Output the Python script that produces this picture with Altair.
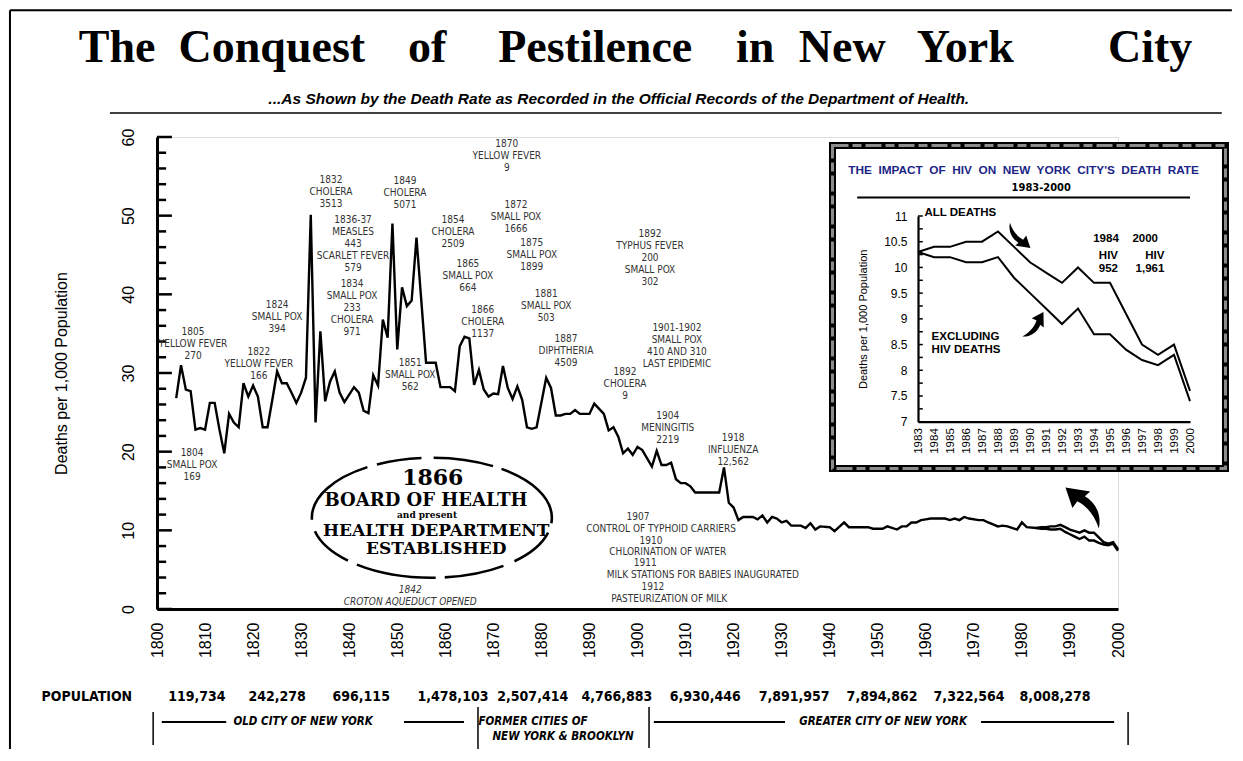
import altair as alt
import pandas as pd

# ---------------- data ----------------
main_years = [1804, 1805, 1806, 1807, 1808, 1809, 1810, 1811, 1812, 1813, 1814, 1815, 1816, 1817,
              1818, 1819, 1820, 1821, 1822, 1823, 1824, 1825, 1826, 1827, 1828, 1829, 1830, 1831,
              1832, 1833, 1834, 1835, 1836, 1837, 1838, 1839, 1841, 1842, 1843, 1844, 1845, 1846,
              1847, 1848, 1849, 1850, 1851, 1852, 1853, 1854, 1856, 1858, 1859, 1861, 1862, 1863,
              1864, 1865, 1866, 1867, 1868, 1869, 1870, 1871, 1872, 1873, 1874, 1875, 1876, 1877,
              1878, 1879, 1881, 1882, 1883, 1884, 1885, 1886, 1887, 1888, 1890, 1891, 1893, 1894,
              1895, 1896, 1897, 1898, 1899, 1900, 1901, 1903, 1904, 1905, 1906, 1907, 1908, 1909,
              1910, 1911, 1912, 1917, 1918, 1919, 1920, 1921, 1922, 1924, 1925, 1926, 1927, 1928,
              1929, 1930, 1931, 1932, 1934, 1935, 1936, 1937, 1938, 1940, 1941, 1943, 1944, 1948,
              1949, 1951, 1952, 1954, 1955, 1956, 1957, 1958, 1959, 1960, 1961, 1964, 1965, 1966,
              1967, 1968, 1969, 1971, 1972, 1973, 1975, 1976, 1977, 1979, 1980, 1981]
main_rate = [26.8, 31.0, 27.9, 27.7, 22.8, 23.0, 22.8, 26.2, 26.2, 22.8, 19.8, 24.8, 23.7, 23.1,
             28.7, 27.0, 28.4, 27.0, 23.1, 23.1, 26.6, 30.2, 28.7, 28.7, 27.5, 26.2, 27.5, 29.4,
             50.1, 23.7, 35.3, 26.4, 28.9, 30.2, 27.5, 26.3, 28.2, 27.5, 25.2, 24.9, 29.7, 28.4,
             36.8, 34.5, 49.0, 33.0, 40.9, 38.5, 39.2, 47.2, 31.3, 31.3, 28.2, 28.2, 27.7, 33.4,
             34.6, 34.4, 28.5, 30.4, 27.9, 27.0, 27.4, 27.3, 30.9, 28.1, 26.7, 28.3, 26.6, 23.1,
             22.9, 23.1, 29.4, 28.1, 24.6, 24.6, 24.8, 24.8, 25.3, 24.8, 24.8, 26.1, 24.8, 22.7,
             23.1, 21.9, 19.8, 20.4, 19.6, 20.6, 20.2, 18.1, 20.1, 18.3, 18.3, 18.6, 16.5, 16.0,
             16.0, 15.6, 14.8, 14.8, 18.0, 13.5, 12.9, 11.3, 11.7, 11.7, 11.4, 11.9, 11.0, 11.7,
             11.5, 11.0, 11.2, 10.6, 10.6, 10.3, 10.9, 10.1, 10.5, 10.4, 9.9, 11.0, 10.4, 10.4,
             10.2, 10.2, 10.5, 10.1, 10.5, 10.5, 11.0, 11.0, 11.3, 11.4, 11.5, 11.5, 11.3, 11.5,
             11.3, 11.7, 11.5, 11.3, 11.3, 11.0, 10.5, 10.6, 10.5, 10.1, 11.0, 10.4]

hiv_years = list(range(1983, 2001))
all_deaths = [10.3, 10.4, 10.4, 10.5, 10.5, 10.7, 10.4, 10.1, 9.9, 9.7, 10.0, 9.7, 9.7, 9.1,
              8.5, 8.3, 8.5, 7.6]
excl_hiv = [10.3, 10.2, 10.2, 10.1, 10.1, 10.2, 9.8, 9.5, 9.2, 8.9, 9.2, 8.7, 8.7, 8.4,
            8.2, 8.1, 8.3, 7.4]

epidemic_notes = ["1805\nYELLOW FEVER\n270", "1804\nSMALL POX\n169", "1822\nYELLOW FEVER\n166",
                  "1824\nSMALL POX\n394", "1832\nCHOLERA\n3513",
                  "1836-37\nMEASLES\n443\nSCARLET FEVER\n579",
                  "1834\nSMALL POX\n233\nCHOLERA\n971", "1849\nCHOLERA\n5071",
                  "1851\nSMALL POX\n562", "1854\nCHOLERA\n2509", "1865\nSMALL POX\n664",
                  "1866\nCHOLERA\n1137", "1870\nYELLOW FEVER\n9", "1872\nSMALL POX\n1666",
                  "1875\nSMALL POX\n1899", "1881\nSMALL POX\n503", "1887\nDIPHTHERIA\n4509",
                  "1892\nTYPHUS FEVER\n200\nSMALL POX\n302",
                  "1901-1902\nSMALL POX\n410 AND 310\nLAST EPIDEMIC", "1892\nCHOLERA\n9",
                  "1904\nMENINGITIS\n2219", "1918\nINFLUENZA\n12,562"]
reform_lines = ["1907", "CONTROL OF TYPHOID CARRIERS", "1910", "CHLORINATION OF WATER", "1911",
                "MILK STATIONS FOR BABIES INAUGURATED", "1912", "PASTEURIZATION OF MILK"]
croton_note = "1842\nCROTON AQUEDUCT OPENED"
badge_lines = ["1866", "BOARD OF HEALTH", "and present", "HEALTH DEPARTMENT", "ESTABLISHED"]

title_words = ["The", "Conquest", "of", "Pestilence", "in", "New", "York", "City"]
subtitle = "...As Shown by the Death Rate as Recorded in the Official Records of the Department of Health."

pop_labels = ["119,734", "242,278", "696,115", "1,478,103", "2,507,414", "4,766,883",
              "6,930,446", "7,891,957", "7,894,862", "7,322,564", "8,008,278"]
era_labels = ["OLD CITY OF NEW YORK", "FORMER CITIES OF", "NEW YORK & BROOKLYN",
              "GREATER CITY OF NEW YORK"]

inset_title = "THE\u00a0 IMPACT\u00a0 OF\u00a0 HIV\u00a0 ON\u00a0 NEW\u00a0 YORK\u00a0 CITY'S\u00a0 DEATH\u00a0 RATE"
inset_notes = ["1984", "2000", "HIV", "HIV", "952", "1,961"]

# ---------------- layout (anchors in data units) ----------------
note_x = [1807.5, 1807.3, 1821.2, 1825.0, 1836.2, 1840.8, 1840.6, 1851.6, 1852.7, 1861.6, 1864.7,
          1867.8, 1872.8, 1874.7, 1878.0, 1881.0, 1885.1, 1902.6, 1908.2, 1897.4, 1906.3, 1919.9]
note_y = [35.9, 20.5, 33.3, 39.3, 55.2, 50.1, 41.9, 55.0, 31.9, 50.1, 44.5,
          38.7, 59.8, 52.0, 47.1, 40.7, 35.0, 48.3, 36.4, 30.7, 25.2, 22.4]
reform_x = [1900.1, 1904.9, 1902.8, 1906.3, 1901.6, 1913.6, 1903.2, 1906.6]
reform_y = [11.7, 10.2, 8.6, 7.2, 5.8, 4.3, 2.8, 1.3]
badge_x = [1857.4, 1856.0, 1856.2, 1858.1, 1858.1]
badge_y = [16.65, 13.7, 11.95, 9.9, 7.6]
badge_size = [22, 18, 9, 17, 17]
title_x = [1791.7, 1823.9, 1856.2, 1891.2, 1924.5, 1942.6, 1968.2, 2006.7]
pop_x = [1808.3, 1825.0, 1842.5, 1861.6, 1878.2, 1895.7, 1914.1, 1932.6, 1950.9, 1969.0, 1986.9]

XS = alt.Scale(domain=[1800, 2000], nice=False, zero=False)
YS = alt.Scale(domain=[0, 60], nice=False, zero=False)
IXS = alt.Scale(domain=[1983, 2000], range=[761, 1033], nice=False, zero=False)
IYS = alt.Scale(domain=[7, 11], range=[284.7, 79], nice=False, zero=False)

NARROW = "Liberation Sans Narrow, DejaVu Sans Condensed, Liberation Sans"
SANS = "Liberation Sans"


def mx(f="x"):
    return alt.X(f"{f}:Q", scale=XS, axis=None)


def my(f="y"):
    return alt.Y(f"{f}:Q", scale=YS, axis=None)


def ix(f="x"):
    return alt.X(f"{f}:Q", scale=IXS, axis=None)


def iy(f="y"):
    return alt.Y(f"{f}:Q", scale=IYS, axis=None)


def mtext(df, **kw):
    return alt.Chart(df).mark_text(**kw).encode(x=mx(), y=my(), text="t:N")


def itext(df, **kw):
    return alt.Chart(df).mark_text(**kw).encode(x=ix(), y=iy(), text="t:N")


def mrule(df, **kw):
    return alt.Chart(df).mark_rule(**kw).encode(x=mx(), x2="x2:Q", y=my(), y2="y2:Q")


ARROW = ("M -1 -0.9 L 0.15 -0.72 L -0.1 -0.5 C 0.35 -0.25 0.7 0.3 0.55 1 "
         "C 0.35 0.4 0.0 -0.05 -0.45 -0.27 L -0.68 0.05 Z")
ELLIPSE = "M -1 0 A 1 0.5 0 1 1 1 0 A 1 0.5 0 1 1 -1 0 Z"

# ---------------- main series ----------------
main_df = pd.concat([
    pd.DataFrame({"x": main_years + hiv_years, "y": main_rate + all_deaths, "s": "all"}),
    pd.DataFrame({"x": hiv_years, "y": excl_hiv, "s": "excl"}),
])

main_line = alt.Chart(main_df).mark_line(color="black", strokeWidth=2.4).encode(
    x=alt.X("x:Q", scale=XS, axis=alt.Axis(
        orient="bottom", values=list(range(1800, 2001, 10)), format="d", labelAngle=-90,
        labelFontSize=16, labelPadding=13, ticks=False, domainWidth=3, domainColor="black",
        labelColor="black", labelFont=SANS, title=None, grid=False, labelFlush=False,
        labelOverlap=False)),
    y=alt.Y("y:Q", scale=YS, axis=alt.Axis(
        orient="left", values=list(range(0, 61, 10)), labelAngle=-90, labelFontSize=16,
        labelPadding=21, ticks=False, domainWidth=3, domainColor="black", labelColor="black",
        labelFont=SANS, title="Deaths per 1,000 Population", titleFontSize=16,
        titleFontWeight="normal", titleFont=SANS, titleColor="black", titlePadding=51,
        grid=False, labelFlush=False, labelOverlap=False)),
    detail="s:N",
)

major = list(range(0, 61, 10))
minor = [v for v in range(2, 60, 2) if v % 10 != 0]
yticks = mrule(pd.DataFrame({"x": 1800, "x2": [1803.1] * len(major) + [1801.9] * len(minor),
                             "y": major + minor, "y2": major + minor}),
               color="black", strokeWidth=2.5)

notes = mtext(pd.DataFrame({"x": note_x, "y": note_y, "t": epidemic_notes}),
              lineBreak="\n", lineHeight=12, baseline="top", align="center",
              font=NARROW, fontSize=10, color="#333333")
reforms = mtext(pd.DataFrame({"x": reform_x, "y": reform_y, "t": reform_lines}),
                baseline="middle", align="center", font=NARROW, fontSize=10, color="#333333")
croton = mtext(pd.DataFrame({"x": [1852.7], "y": [3.1], "t": [croton_note]}),
               lineBreak="\n", lineHeight=12, baseline="top", align="center", font=NARROW,
               fontSize=10, fontStyle="italic", color="#333333")

badge_shape = alt.Chart(pd.DataFrame({"x": [1857.2], "y": [11.6]})).mark_point(
    shape=ELLIPSE, size=57600, filled=False, color="black", strokeWidth=2.6, opacity=1,
    strokeDash=[80, 10, 45, 12, 60, 9]).encode(x=mx(), y=my())
badge_text = alt.Chart(pd.DataFrame({"x": badge_x, "y": badge_y, "t": badge_lines,
                                     "fs": badge_size})).mark_text(
    font="DejaVu Serif", fontWeight="bold", baseline="middle", align="center",
    color="black").encode(x=mx(), y=my(), text="t:N",
                          size=alt.Size("fs:Q", scale=None, legend=None))

title = mtext(pd.DataFrame({"x": title_x, "y": 69.5, "t": title_words}),
              font="Liberation Serif", fontWeight="bold", fontSize=46, baseline="alphabetic",
              align="center", color="black")
sub = mtext(pd.DataFrame({"x": [1896.1], "y": [64.8], "t": [subtitle]}),
            font=SANS, fontWeight="bold", fontStyle="italic", fontSize=15.5,
            baseline="middle", align="center", color="black")
sub_rule = mrule(pd.DataFrame({"x": [1790.2], "x2": [2021.6], "y": [63.05], "y2": [63.05]}),
                 color="black", strokeWidth=1.5)
frame = mrule(pd.DataFrame({"x": [1769.4, 1769.4], "x2": [2023.7, 1769.4],
                            "y": [76.1, 76.1], "y2": [76.1, -18.6]}),
              color="black", strokeWidth=2)

box = alt.Chart(pd.DataFrame({"x": [1940.58], "x2": [2022.37], "y": [58.92], "y2": [17.86]})
                ).mark_rect(fill="white", stroke="black", strokeWidth=7).encode(
    x=mx(), x2="x2:Q", y=my(), y2="y2:Q")
box_dash = alt.Chart(pd.DataFrame({"x": [1940.58], "x2": [2022.37], "y": [58.92], "y2": [17.86]})
                     ).mark_rect(fillOpacity=0, stroke="#8c8c8c", strokeWidth=3,
                                 strokeDash=[16, 4, 9, 4]).encode(
    x=mx(), x2="x2:Q", y=my(), y2="y2:Q")

big_arrow = alt.Chart(pd.DataFrame({"x": [1993.55], "y": [12.97]})).mark_point(
    shape=ARROW, size=1850, filled=True, color="black", opacity=1).encode(x=mx(), y=my())

pop_title = mtext(pd.DataFrame({"x": [1785.4], "y": [-11.19], "t": ["POPULATION"]}),
                  font=NARROW, fontWeight="bold", fontSize=14, baseline="middle",
                  align="center", color="black")
pops = mtext(pd.DataFrame({"x": pop_x, "y": -11.19, "t": pop_labels}),
             font=NARROW, fontWeight="bold", fontSize=14, baseline="middle", align="center",
             color="black")
eras = mtext(pd.DataFrame({"x": [1830.4, 1884.5, 1951.1], "y": [-14.36, -16.27, -14.36],
                           "t": [era_labels[0], era_labels[2], era_labels[3]]}),
             font=NARROW, fontWeight="bold", fontStyle="italic", fontSize=11.5,
             baseline="middle", align="center", color="black")
era_left = mtext(pd.DataFrame({"x": [1866.9], "y": [-14.36], "t": [era_labels[1]]}),
                 font=NARROW, fontWeight="bold", fontStyle="italic", fontSize=11.5,
                 baseline="middle", align="left", color="black")
era_h = mrule(pd.DataFrame({"x": [1801.0, 1851.4, 1903.4, 1971.5],
                            "x2": [1814.4, 1863.9, 1930.7, 1999.2],
                            "y": -14.36, "y2": -14.36}), color="black", strokeWidth=2)
era_v = mrule(pd.DataFrame({"x": [1799.2, 1866.8, 1902.4, 2002.1],
                            "x2": [1799.2, 1866.8, 1902.4, 2002.1],
                            "y": [-13.09, -12.46, -12.46, -13.09],
                            "y2": [-17.29, -17.92, -17.67, -17.29]}),
              color="black", strokeWidth=1.5)

# ---------------- inset ----------------
inset_df = pd.concat([
    pd.DataFrame({"x": hiv_years, "y": all_deaths, "s": "all"}),
    pd.DataFrame({"x": hiv_years, "y": excl_hiv, "s": "excl"}),
])
inset_lines = alt.Chart(inset_df).mark_line(color="black", strokeWidth=2).encode(
    x=alt.X("x:Q", scale=IXS, axis=alt.Axis(
        orient="bottom", offset=-187.3, values=hiv_years, format="d", labelAngle=-90,
        labelFontSize=11.5, labelPadding=6, ticks=False, domainWidth=2.2, domainColor="black",
        labelColor="black", labelFont=SANS, title=None, grid=False, labelFlush=False,
        labelOverlap=False, zindex=2)),
    y=alt.Y("y:Q", scale=IYS, axis=alt.Axis(
        orient="left", offset=-761, values=[7, 7.5, 8, 8.5, 9, 9.5, 10, 10.5, 11],
        format="~g", labelFontSize=12, labelPadding=11, ticks=False, domainWidth=2.2,
        domainColor="black", labelColor="black", labelFont=SANS,
        title="Deaths per 1,000 Population", titleFontSize=11, titleFontWeight="normal",
        titleFont=SANS, titleColor="black", titlePadding=15, grid=False,
        labelFlush=False, labelOverlap=False, zindex=2)),
    detail="s:N",
)
iticks_v = [7 + 0.25 * i for i in range(17)]
inset_ticks = alt.Chart(pd.DataFrame({"x": 1983, "x2": 1983.3, "y": iticks_v})).mark_rule(
    color="black", strokeWidth=1.5).encode(x=ix(), x2="x2:Q", y=iy())
inset_head = itext(pd.DataFrame({"x": [1989.6], "y": [11.89], "t": [inset_title]}),
                   font=SANS, fontWeight="bold", fontSize=11.8, color="#1c2586",
                   baseline="middle", align="center")
inset_sub = itext(pd.DataFrame({"x": [1990.7], "y": [11.54], "t": ["1983-2000"]}),
                  font=NARROW, fontWeight="bold", fontSize=11, color="black",
                  baseline="middle", align="center")
inset_rule = alt.Chart(pd.DataFrame({"x": [1979.2], "x2": [2000.0], "y": [11.36]})).mark_rule(
    color="black", strokeWidth=1.8).encode(x=ix(), x2="x2:Q", y=iy())
inset_all = itext(pd.DataFrame({"x": [1983.4], "y": [11.06], "t": ["ALL DEATHS"]}),
                  font=SANS, fontWeight="bold", fontSize=11.5, color="black",
                  baseline="middle", align="left")
inset_excl = itext(pd.DataFrame({"x": [1983.85], "y": [8.65], "t": ["EXCLUDING\nHIV DEATHS"]}),
                   font=SANS, fontWeight="bold", fontSize=11.5, color="black",
                   baseline="middle", align="left", lineBreak="\n", lineHeight=13)
inset_hiv = itext(pd.DataFrame({"x": [1994.75, 1997.2, 1994.9, 1997.8, 1994.9, 1997.5],
                                "y": [10.55, 10.55, 10.22, 10.22, 9.97, 9.97],
                                "t": inset_notes}),
                  font=SANS, fontWeight="bold", fontSize=11.5, color="black",
                  baseline="middle", align="center")
inset_arrows = alt.Chart(pd.DataFrame({"x": [1989.2, 1990.25], "y": [10.61, 8.84],
                                       "a": [180, 80]})).mark_point(
    shape=ARROW, size=700, filled=True, color="black", opacity=1).encode(
    x=ix(), y=iy(), angle=alt.Angle("a:Q", scale=None))

chart = alt.layer(
    frame, title, sub, sub_rule, box, box_dash, yticks, main_line, notes, reforms, croton,
    badge_shape, badge_text, big_arrow, pop_title, pops, eras, era_left, era_h, era_v,
    inset_ticks, inset_lines, inset_head, inset_sub, inset_rule, inset_all, inset_excl,
    inset_hiv, inset_arrows,
).resolve_scale(x="independent", y="independent").resolve_axis(
    x="independent", y="independent").properties(
    width=961, height=472,
    padding={"left": 149, "top": 129, "right": 115, "bottom": 140},
    autosize=alt.AutoSizeParams(type="none"),
).configure_view(strokeWidth=0).configure(background="white")

chart.save("out.html", embed_options={"renderer": "svg", "actions": False})
